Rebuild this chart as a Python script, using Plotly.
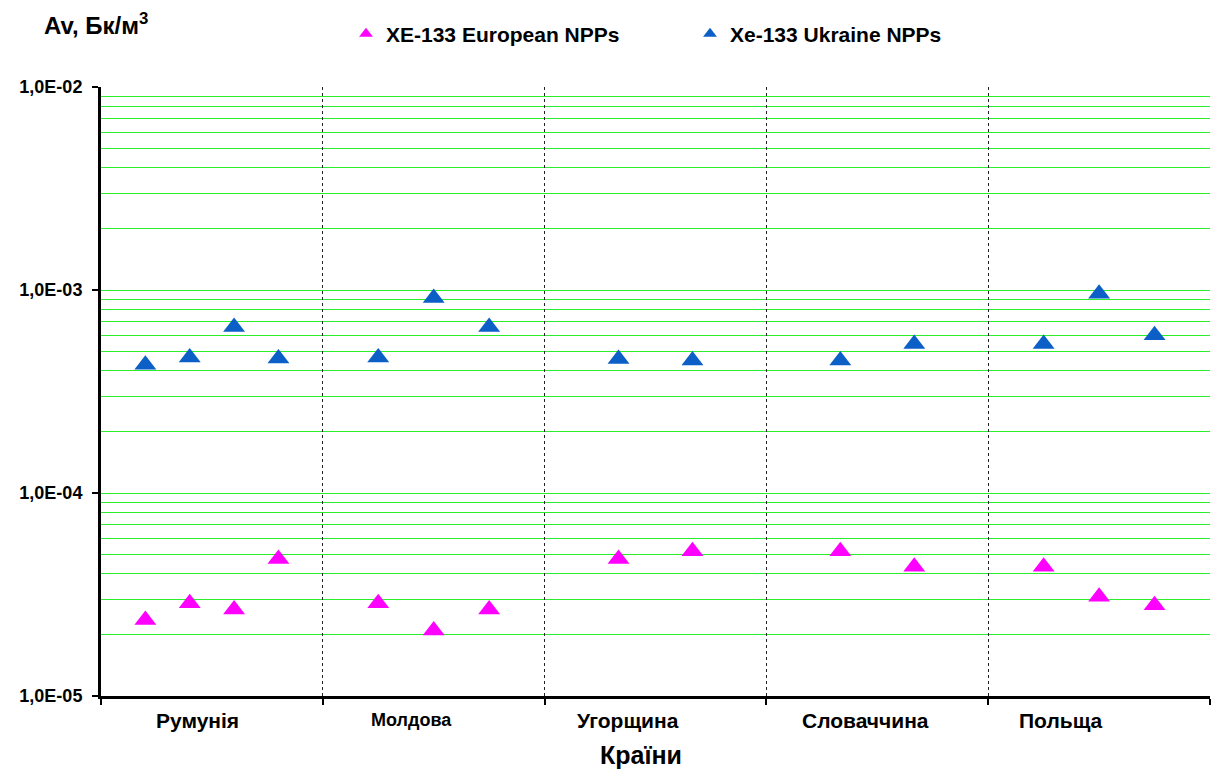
import plotly.graph_objects as go

# ---- data ----
countries = ["Румунія", "Молдова", "Угорщина", "Словаччина", "Польща"]
xe133_european = [
    [2.37e-5, 2.86e-5, 2.67e-5, 4.73e-5],
    [2.86e-5, 2.10e-5, 2.67e-5],
    [4.73e-5, 5.17e-5],
    [5.17e-5, 4.33e-5],
    [4.33e-5, 3.08e-5, 2.80e-5],
]
xe133_ukraine = [
    [4.28e-4, 4.65e-4, 6.58e-4, 4.60e-4],
    [4.65e-4, 9.14e-4, 6.58e-4],
    [4.57e-4, 4.50e-4],
    [4.50e-4, 5.42e-4],
    [5.42e-4, 9.59e-4, 5.98e-4],
]
y_ticks = [1e-5, 1e-4, 1e-3, 1e-2]
y_tick_labels = ["1,0E-05", "1,0E-04", "1,0E-03", "1,0E-02"]
series_names = ["XE-133 European NPPs", "Xe-133 Ukraine NPPs"]

# label placement within each category band (fraction of band)
label_offsets = [0.433, 0.400, 0.376, 0.445, 0.329]
label_sizes = [21, 18, 21, 21, 21]

W, H = 1212, 769
L, R, T, B = 101, 2, 87, 73
PW, PH = W - L - R, H - T - B


def px_x(px):
    return (px - L) / PW


def px_y(py):
    return (H - B - py) / PH


def spread(groups):
    xs, ys = [], []
    for i, vals in enumerate(groups):
        n = len(vals)
        for k, v in enumerate(vals):
            xs.append(i + (k + 1) / (n + 1))
            ys.append(v)
    return xs, ys


FONT = "Arial, 'Liberation Sans', sans-serif"
colors = ["#FF00FF", "#0B5FC6"]

fig = go.Figure()
for name, groups, col in zip(series_names, [xe133_european, xe133_ukraine], colors):
    xs, ys = spread(groups)
    fig.add_trace(go.Scatter(
        x=xs, y=ys, mode="markers", name=name,
        marker=dict(symbol="triangle-up", size=19, color=col,
                    line=dict(width=0)),
    ))

fig.update_layout(
    width=W, height=H,
    margin=dict(l=L, r=R, t=T, b=B),
    plot_bgcolor="white", paper_bgcolor="white",
    font=dict(family=FONT, color="black"),
    showlegend=True,
    legend=dict(
        orientation="h", xref="container", yref="container",
        x=346 / W, y=1 - 34 / H, xanchor="left", yanchor="middle",
        font=dict(size=21, weight="bold", family=FONT),
        itemsizing="constant", entrywidth=299, entrywidthmode="pixels",
        bgcolor="rgba(0,0,0,0)",
    ),
)

fig.update_xaxes(
    range=[0, len(countries)],
    tickvals=list(range(len(countries) + 1)),
    showticklabels=False,
    ticks="outside", ticklen=6, tickwidth=2, tickcolor="black",
    showline=True, linecolor="black", linewidth=3,
    showgrid=True, gridcolor="#222222", gridwidth=1, griddash="dot",
    zeroline=False,
)
fig.update_yaxes(
    type="log", range=[-5, -2],
    tickvals=y_ticks, ticktext=y_tick_labels,
    tickfont=dict(size=18, weight="bold", family=FONT),
    ticks="outside", ticklen=6, tickwidth=2, tickcolor="black",
    ticklabelstandoff=6,
    showline=True, linecolor="black", linewidth=3,
    showgrid=True, gridcolor="#2BEE2B", gridwidth=1,
    minor=dict(dtick="D1", showgrid=True, gridcolor="#2BEE2B", gridwidth=1, ticks=""),
    zeroline=False,
)

# category labels
for i, (c, off, sz) in enumerate(zip(countries, label_offsets, label_sizes)):
    fig.add_annotation(
        x=i + off, y=0, xref="x", yref="paper", yshift=-24,
        text=c, showarrow=False, xanchor="center", yanchor="middle",
        font=dict(size=sz, weight="bold", family=FONT),
    )

# axis titles
fig.add_annotation(
    x=px_x(641), y=px_y(755), xref="paper", yref="paper",
    text="Країни", showarrow=False, xanchor="center", yanchor="middle",
    font=dict(size=25, weight="bold", family=FONT),
)
fig.add_annotation(
    x=px_x(42), y=px_y(24), xref="paper", yref="paper",
    text="Av, Бк/м<sup>3</sup>", showarrow=False, xanchor="left", yanchor="middle",
    font=dict(size=24, weight="bold", family=FONT),
)

fig.write_html("out.html", config={"displayModeBar": False},
               post_script="document.body.style.margin='0';")
